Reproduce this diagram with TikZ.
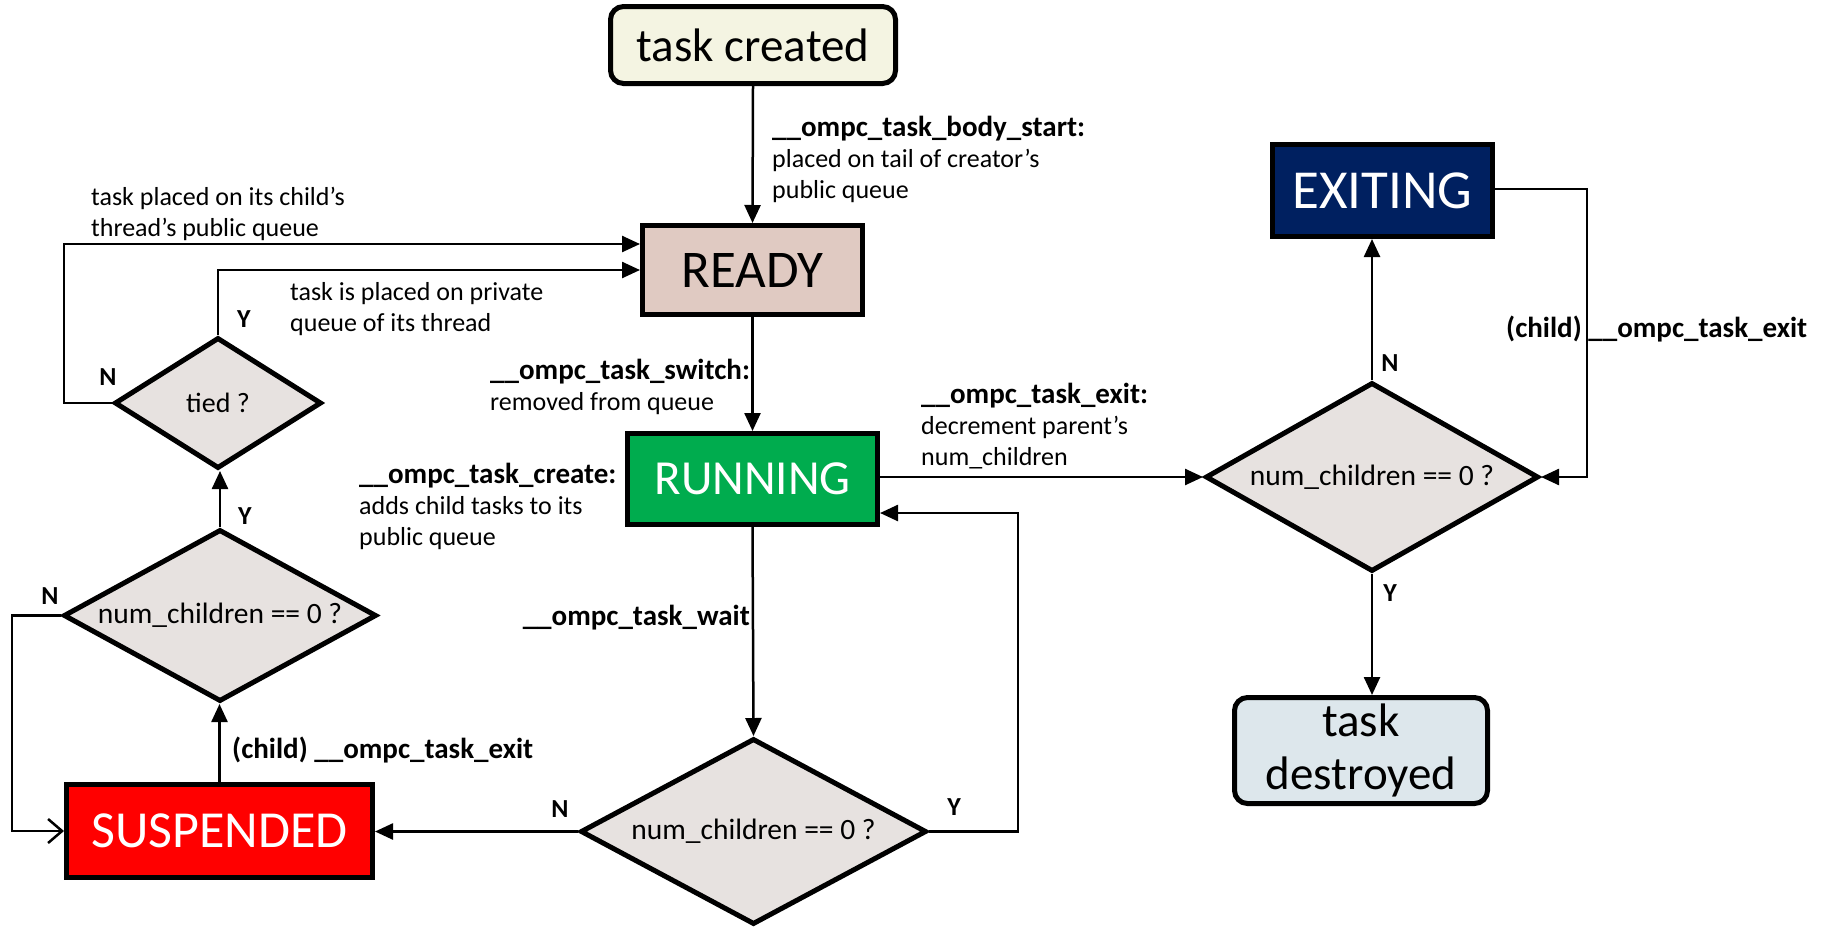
\documentclass[tikz,border=0pt]{standalone}
\usepackage{fontspec}
\setmainfont{Carlito}
\usetikzlibrary{shapes.geometric,arrows.meta}

\definecolor{creamc}{HTML}{F4F4E2}
\definecolor{readyc}{HTML}{E0CAC2}
\definecolor{runc}{HTML}{00AC4E}
\definecolor{exitc}{HTML}{002060}
\definecolor{destc}{HTML}{DDE7EC}
\definecolor{decc}{HTML}{E7E2E0}
\definecolor{suspc}{HTML}{FF0000}

\begin{document}
\begin{tikzpicture}[x=1pt,y=-1pt,
  statebox/.style={draw, line width=5pt, inner sep=0pt},
  termbox/.style={statebox, rounded corners=13pt,
    font=\fontsize{47}{53}\selectfont},
  decision/.style={diamond, draw, line width=5pt, fill=decc, inner sep=0pt,
    aspect=1.8, font=\fontsize{29.5}{34}\selectfont},
  conn/.style={line width=2.5pt, -{Triangle[length=18pt,width=16pt]}},
  openconn/.style={line width=2.5pt, -{Straight Barb[length=14pt,width=24pt,line width=2.5pt]}},
  lbl/.style={font=\fontsize{26}{31}\selectfont, align=left, inner sep=0pt, anchor=base west},
  blbl/.style={lbl, font=\bfseries\fontsize{29}{31}\selectfont},
  yn/.style={font=\bfseries\fontsize{26}{31}\selectfont, inner sep=0pt}]

\useasboundingbox[fill=white] (0,0) rectangle (1828,929);

% states and terminals
\node[termbox, fill=creamc, minimum width=285pt, minimum height=77pt] (created) at (753,45) {task created};
\node[statebox, fill=readyc, minimum width=220pt, minimum height=89pt, font=\fontsize{53}{60}\selectfont] (ready) at (752.5,270) {READY};
\node[statebox, fill=runc, text=white, minimum width=250pt, minimum height=91pt, font=\fontsize{49}{60}\selectfont] (running) at (752.5,479) {RUNNING};
\node[statebox, fill=exitc, text=white, minimum width=220pt, minimum height=92pt, font=\fontsize{55}{60}\selectfont] (exiting) at (1382.5,190.5) {EXITING};
\node[termbox, fill=destc, minimum width=253pt, minimum height=106pt, align=center] (destroyed) at (1361,750.5) {task\\destroyed};
\node[statebox, fill=suspc, text=white, minimum width=306pt, minimum height=93pt, font=\fontsize{52}{60}\selectfont] (suspended) at (219.5,831) {SUSPENDED};

% decisions
\node[decision, minimum width=333pt, minimum height=189pt] (dR) at (1372,477) {num\_children == 0 ?};
\node[decision, minimum width=346pt, minimum height=186pt] (dB) at (753.5,831.5) {num\_children == 0 ?};
\node[decision, minimum width=313pt, minimum height=172pt] (dL) at (220,615.5) {num\_children == 0 ?};
\node[decision, minimum width=207pt, minimum height=131pt, font=\fontsize{28}{34}\selectfont] (dT) at (218,403) {tied ?};

% loop corners
\coordinate (yback) at (1018,513);
\coordinate (nloop) at (64,244);
\coordinate (lloop) at (12,615.5);
\coordinate (xloop) at (1587,189);

% connectors
\draw[conn] (created.south) -- (ready.north);
\draw[conn] (ready.south) -- (running.north);
\draw[conn] (running.south) -- (dB.north);
\draw[conn] (dR.west -| running.east) -- (dR.west);
\draw[conn] (dB.east) -| (yback) -- (yback -| running.east);
\draw[conn] (dB.west) -- (dB.west -| suspended.east);
\draw[conn] (suspended.north) -- (suspended.north |- dL.south);
\draw[conn] (dL.north) -- (dL.north |- dT.south);
\draw[conn] (dT.north) |- (ready.west);
\draw[conn] (dT.west) -| (nloop) -- (nloop -| ready.west);
\draw[openconn] (dL.west) -- (lloop) |- (suspended.west);
\draw[conn] (dR.north) -- (dR.north |- exiting.south);
\draw[conn] (exiting.east |- xloop) -- (xloop) |- (dR.east);
\draw[conn] (dR.south) -- (dR.south |- destroyed.north);

% transition labels (multi-line nodes sit on the baseline of their last line)
\node[lbl] (tBody) at (772,198) {{\bfseries\fontsize{29}{31}\selectfont \_\_ompc\_task\_body\_start:}\\placed on tail of creator’s\\public queue};
\node[lbl] (tChildQ) at (91,236) {task placed on its child’s\\thread’s public queue};
\node[lbl] (tPriv) at (290,331) {task is placed on private\\queue of its thread};
\node[lbl] (tSwitch) at (490,410) {{\bfseries\fontsize{29}{31}\selectfont \_\_ompc\_task\_switch:}\\removed from queue};
\node[lbl] (tCreate) at (359,545) {{\bfseries\fontsize{29}{31}\selectfont \_\_ompc\_task\_create:}\\adds child tasks to its\\public queue};
\node[lbl] (tExit) at (921,465) {{\bfseries\fontsize{29}{31}\selectfont \_\_ompc\_task\_exit:}\\decrement parent’s\\num\_children};
\node[blbl] (tChildR) at (1506,337) {(child) \_\_ompc\_task\_exit};
\node[blbl] (tChildL) at (232,758) {(child) \_\_ompc\_task\_exit};
\node[blbl, anchor=base east] (tWait) at (750,625) {\_\_ompc\_task\_wait};

% branch labels
\node[yn] (nR) at (1390,363) {N};
\node[yn] (yR) at (1390,593) {Y};
\node[yn] (nB) at (560,809) {N};
\node[yn] (yB) at (954,807) {Y};
\node[yn] (nL) at (50,596) {N};
\node[yn] (yL) at (245,516) {Y};
\node[yn] (yT) at (244,319) {Y};
\node[yn] (nT) at (108,377) {N};
\end{tikzpicture}
\end{document}
